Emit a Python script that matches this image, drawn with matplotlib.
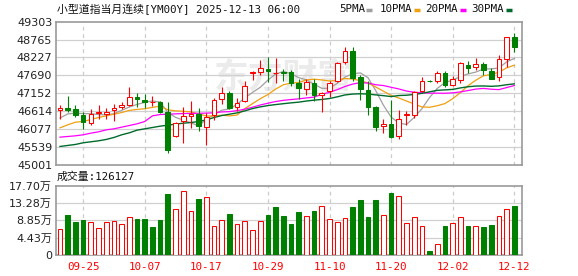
import numpy as np
import matplotlib
matplotlib.use("Agg")
import matplotlib.pyplot as plt
from matplotlib.lines import Line2D

# daily bars, 2025-09-22 .. 2025-12-12
opens = [46646, 46706, 46676, 46495, 46265, 46546, 46525, 46636, 46726, 46806,
         47037, 46947, 46890, 46880, 46590, 45853, 46305, 46455, 46525, 46124,
         46505, 46967, 47167, 46726, 46907, 47749, 47779, 47880, 47750, 47779,
         47800, 47448, 47288, 47448, 47107, 47228, 47508, 48080, 48411, 47629,
         47248, 46726, 46154, 46225, 45853, 46495, 46505, 47208, 47529, 47508,
         47759, 47388, 47559, 47990, 47950, 48030, 47829, 47629, 48190, 48832]
highs = [46786, 47057, 46786, 46586, 46686, 46786, 46706, 46827, 46887, 47338,
         47157, 47127, 47060, 46927, 46887, 46285, 46726, 46907, 46706, 46556,
         46997, 47328, 47228, 47007, 47528, 47809, 48140, 48240, 48200, 47880,
         47859, 47589, 47589, 47589, 47188, 47508, 48090, 48541, 48541, 47689,
         47508, 46756, 46385, 46957, 46656, 46626, 47228, 47629, 47559, 47809,
         47809, 47659, 48090, 48130, 48210, 48090, 47909, 48291, 48852, 48963]
lows = [46385, 46586, 46425, 46084, 46205, 46375, 46385, 46325, 46676, 46756,
        46726, 46706, 46770, 46555, 45352, 45833, 45653, 46104, 46004, 45603,
        46355, 46827, 46676, 46626, 46890, 47559, 47709, 47500, 47460, 47508,
        47358, 46977, 47087, 46927, 46586, 47047, 47478, 48030, 47528, 46957,
        46505, 46004, 45954, 45803, 45783, 46205, 46405, 47187, 47488, 47468,
        47348, 47358, 47448, 47759, 47859, 47709, 47569, 47528, 47930, 48391]
closes = [46706, 46656, 46505, 46285, 46525, 46586, 46576, 46706, 46786, 47027,
          46977, 46887, 46890, 46600, 45452, 46265, 46455, 46515, 46154, 46435,
          46947, 47147, 46706, 46867, 47378, 47779, 47909, 47820, 47750, 47749,
          47458, 47308, 47478, 47107, 47147, 47448, 48060, 48411, 47609, 47288,
          46726, 46124, 46215, 45823, 46375, 46525, 47188, 47508, 47519, 47749,
          47388, 47569, 48050, 47909, 48020, 47859, 47589, 48170, 48832, 48541]

# volume, in 万 (10k)
volume = [6.5, 10.2, 8.4, 8.9, 8.4, 6.8, 8.4, 8.6, 7.8, 9.6,
          9.2, 9.2, 7.1, 8.9, 15.6, 11.9, 16.3, 11.2, 14.3, 14.8,
          7.3, 8.85, 10.5, 7.8, 8.6, 6.3, 8.6, 10.2, 12.3, 10.0,
          7.9, 11.0, 9.9, 11.3, 12.5, 9.1, 8.3, 9.4, 12.3, 14.1,
          9.7, 14.1, 10.1, 15.9, 15.1, 8.2, 9.6, 7.3, 0.95, 2.7,
          7.4, 8.2, 9.6, 7.4, 7.4, 7.1, 7.6, 10.0, 11.8, 12.61]

# moving averages as shown on the chart
ma5 = [46405, 46530, 46550, 46540, 46535, 46511, 46495, 46536, 46636, 46736,
       46814, 46877, 46917, 46885, 46570, 46427, 46341, 46263, 46168, 46365,
       46501, 46640, 46678, 46820, 47009, 47175, 47328, 47546, 47729, 47803,
       47739, 47619, 47554, 47420, 47300, 47298, 47448, 47635, 47735, 47763,
       47619, 47232, 46792, 46435, 46253, 46212, 46425, 46684, 47023, 47298,
       47470, 47547, 47655, 47733, 47787, 47881, 47885, 47909, 48094, 48198]
ma10 = [46110, 46200, 46280, 46300, 46360, 46420, 46470, 46520, 46570, 46636,
        46663, 46686, 46726, 46760, 46653, 46621, 46609, 46590, 46527, 46467,
        46464, 46490, 46470, 46494, 46687, 46838, 46984, 47112, 47275, 47406,
        47457, 47473, 47550, 47574, 47551, 47518, 47533, 47595, 47578, 47531,
        47458, 47340, 47214, 47085, 47008, 46916, 46828, 46738, 46729, 46775,
        46841, 46986, 47169, 47378, 47543, 47676, 47716, 47782, 47914, 47993]
ma20 = [45830, 45850, 45870, 45900, 45950, 45990, 46050, 46080, 46130, 46180,
        46230, 46300, 46470, 46510, 46520, 46530, 46540, 46545, 46548, 46552,
        46564, 46588, 46598, 46627, 46670, 46730, 46796, 46851, 46901, 46937,
        46961, 46982, 47010, 47034, 47119, 47178, 47259, 47353, 47426, 47469,
        47458, 47407, 47382, 47330, 47280, 47217, 47181, 47166, 47153, 47153,
        47150, 47163, 47191, 47232, 47275, 47296, 47272, 47260, 47321, 47384]
ma30 = [45550, 45580, 45610, 45660, 45690, 45720, 45760, 45820, 45900, 45960,
        46040, 46080, 46120, 46160, 46190, 46220, 46250, 46270, 46300, 46350,
        46420, 46480, 46520, 46560, 46620, 46690, 46740, 46780, 46810, 46836,
        46861, 46883, 46916, 46943, 46964, 46992, 47042, 47099, 47126, 47135,
        47127, 47101, 47078, 47051, 47082, 47091, 47115, 47148, 47194, 47238,
        47252, 47266, 47311, 47346, 47367, 47370, 47359, 47372, 47407, 47433]

date_pos = [3, 11, 19, 27, 35, 43, 51, 59]
date_labels = ["09-25", "10-07", "10-17", "10-29", "11-10", "11-20", "12-02", "12-12"]
price_ticks = ["45001", "45539", "46077", "46614", "47152", "47690", "48227", "48765", "49303"]
vol_ticks = ["0", "4.43万", "8.85万", "13.28万", "17.70万"]

RED = "#ff0000"
GREEN = "#008000"
W, H = 578, 276


def px(x, y):
    return x / W, 1 - y / H


def style_axes(ax, yticks, ylabels):
    for s in ax.spines.values():
        s.set_color("#999999")
        s.set_linewidth(1.2)
    ax.set_xlim(-0.56, 60.04)
    ax.set_yticks(yticks)
    ax.set_yticklabels(ylabels, family=["DejaVu Sans", "Noto Sans CJK SC"], fontsize=8, color="#222222")
    ax.tick_params(axis="y", length=0, pad=2.5)
    for v in yticks[1:-1]:
        ax.axhline(v, color="#d0d0d0", lw=0.9, zorder=0)
    for p in date_pos:
        ax.axvline(p, color="#cccccc", lw=0.9, ls=(0, (3, 3)), zorder=0)


fig = plt.figure(figsize=(W / 100, H / 100), dpi=100)
ax = fig.add_axes([55.7 / W, 1 - 164.7 / H, 466.6 / W, 143 / H])
axv = fig.add_axes([55.7 / W, 1 - 254.7 / H, 466.6 / W, 68.7 / H])

o = np.array(opens)
c = np.array(closes)
hi = np.array(highs)
lo = np.array(lows)
x = np.arange(len(o))
up = c >= o
colors = np.where(up, RED, GREEN)
b_lo = np.minimum(o, c)
b_hi = np.maximum(o, c)

# watermark
ax.text(29, 47650, "东方财富", family="Noto Sans CJK SC", fontsize=25, fontweight="bold",
        color="#ebebeb", ha="center", va="center", zorder=0)

ax.plot(x, ma5, color="#a0a0a0", lw=0.9, zorder=2)
ax.plot(x, ma10, color="#f0a010", lw=0.9, zorder=2)
ax.plot(x, ma20, color="#ff00ff", lw=0.9, zorder=2)
ax.plot(x, ma30, color="#006b2d", lw=1.0, zorder=2)

ax.vlines(x, lo, b_lo, colors=colors, lw=0.8, zorder=3)
ax.vlines(x, b_hi, hi, colors=colors, lw=0.8, zorder=3)
ax.bar(x, b_hi - b_lo, bottom=b_lo, width=0.6, facecolor=np.where(up, "white", GREEN),
       edgecolor=colors, linewidth=0.75, zorder=4)

ax.set_ylim(45001, 49303)
style_axes(ax, np.linspace(45001, 49303, 9), price_ticks)
ax.set_xticks([])

vol_up = c > o
axv.bar(x, volume, width=0.62, facecolor=np.where(vol_up, "white", GREEN),
        edgecolor=np.where(vol_up, RED, GREEN), linewidth=0.75, zorder=3)
axv.set_ylim(0, 17.70)
style_axes(axv, np.linspace(0, 17.70, 5), vol_ticks)
axv.set_xticks(date_pos)
axv.set_xticklabels(date_labels, family="DejaVu Sans Mono", fontsize=7.8, color=RED)
axv.tick_params(axis="x", length=0, pad=5)

mono = ["DejaVu Sans Mono", "Noto Sans CJK SC"]
tx, ty = px(57, 9)
fig.text(tx, ty, "小型道指当月连续[YM00Y] 2025-12-13 06:00", family=mono, fontsize=7.8,
         color="#111111", va="center", ha="left")
tx, ty = px(57, 177)
fig.text(tx, ty, "成交量:126127", family=mono, fontsize=7.8, color="#111111", va="center", ha="left")

legend = [("5PMA", 338.7, 365.5, "#a0a0a0"), ("10PMA", 379.7, 413.5, "#f0a010"),
          ("20PMA", 425.3, 459.5, "#ff00ff"), ("30PMA", 471.3, 505.5, "#006b2d")]
for name, tx0, lx0, col in legend:
    a, b = px(tx0, 9)
    fig.text(a, b, name, family="DejaVu Sans Mono", fontsize=7.8, color="#111111", va="center", ha="left")
    x0, y0 = px(lx0, 9.5)
    x1, _ = px(lx0 + 6, 9.5)
    fig.add_artist(Line2D([x0, x1], [y0, y0], color=col, lw=2.5, solid_capstyle="butt"))

fig.savefig("out.png", dpi=100)
